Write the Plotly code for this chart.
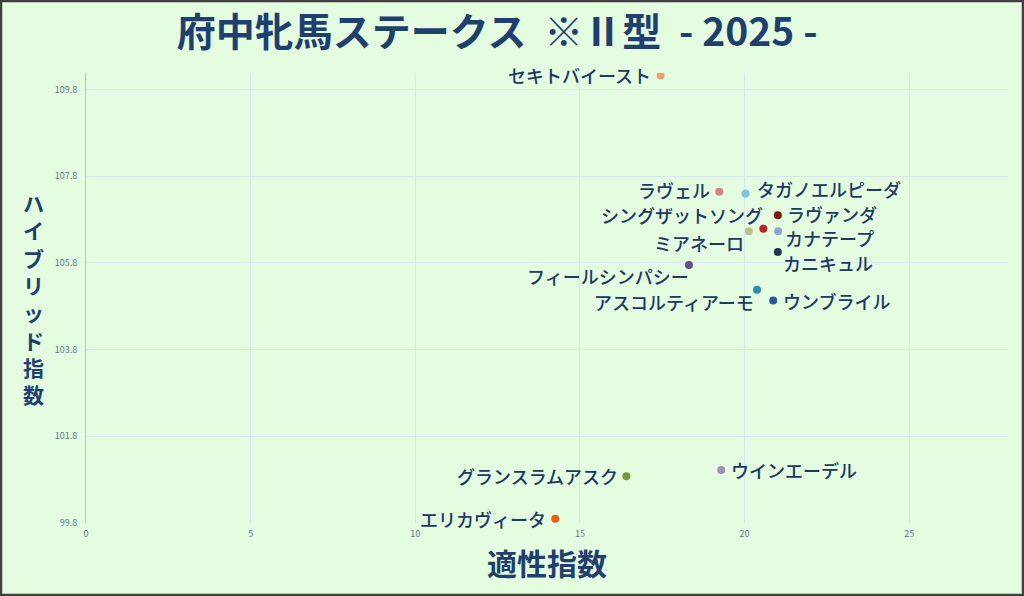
import plotly.graph_objects as go

# ---- data ----
horses = ["セキトバイースト", "ラヴェル", "タガノエルピーダ", "ラヴァンダ", "シングザットソング",
          "ミアネーロ", "カナテープ", "カニキュル", "フィールシンパシー", "アスコルティアーモ",
          "ウンブライル", "ウインエーデル", "グランスラムアスク", "エリカヴィータ"]
tekisei = [17.45, 19.23, 20.03, 21.01, 20.57, 20.13, 21.02, 21.01, 18.31, 20.38, 20.87, 19.29, 16.41, 14.25]
hybrid = [110.12, 107.44, 107.40, 106.90, 106.59, 106.53, 106.53, 106.05, 105.75, 105.18, 104.93, 101.02, 100.88, 99.90]
x_ticks = [0, 5, 10, 15, 20, 25]
y_ticks = [99.8, 101.8, 103.8, 105.8, 107.8, 109.8]
y_tick_text = ["99.8", "101.8", "103.8", "105.8", "107.8", "109.8"]

# ---- styles ----
colors = ["#EFA06A", "#DA8080", "#80C4E2", "#7A1818", "#B52828", "#B7C28C", "#8EA8D2",
          "#1E3350", "#6A4A8A", "#2A8CB0", "#2A5A98", "#A28CC0", "#7A9A38", "#E86010"]
# label placement: (anchor, xshift px, yshift px)
label_pos = [("right", -9, 1), ("right", -8, 2), ("left", 10, 5), ("left", 8, 1),
             ("right", 1, 14), ("right", -4, -12), ("left", 6, -7), ("left", 4, -11),
             ("right", 1, -11), ("right", -2, -12), ("left", 9, 0), ("left", 9, 0),
             ("right", -7, 0), ("right", -8, 0)]

BG = "#E4FCDF"
NAVY = "#1F3F6E"
TXT = "#203864"
FONT = "Noto Sans CJK JP"

fig = go.Figure()
fig.add_trace(go.Scatter(
    x=tekisei, y=hybrid, mode="markers",
    marker=dict(size=8, color=colors, line=dict(width=0)),
    hoverinfo="text", text=horses, showlegend=False))

for name, xv, yv, (anc, dx, dy) in zip(horses, tekisei, hybrid, label_pos):
    fig.add_annotation(x=xv, y=yv, text=name, showarrow=False, xanchor=anc,
                       yanchor="middle", xshift=dx, yshift=dy, borderpad=0,
                       font=dict(family=FONT, size=18, color=TXT, weight=500))

# vertical y-axis title (upright stacked characters)
ytitle = "ハイブリッド指数"
fig.add_annotation(xref="paper", yref="paper", x=0, y=0.5, xanchor="center", yanchor="middle",
                   xshift=-53, yshift=0, text="<b>" + "<br>".join(ytitle) + "</b>",
                   showarrow=False, align="center",
                   font=dict(family=FONT, size=21, color=NAVY))

fig.update_layout(
    width=1024, height=596,
    paper_bgcolor=BG, plot_bgcolor=BG,
    margin=dict(l=86, r=16, t=73, b=73),
    title=dict(text="<b>府中牝馬ステークス  ※Ⅱ型  - 2025 -</b>", x=0.4855, xanchor="center",
               y=0.945, yanchor="middle", yref="container",
               font=dict(family=FONT, size=39, color=NAVY)),
    font=dict(family=FONT),
    xaxis=dict(range=[0, 28.0], tickvals=x_ticks, showgrid=True, gridcolor="#D6E6F2", gridwidth=1,
               zeroline=False, showline=False, ticks="", ticklabelstandoff=4,
               tickfont=dict(family=FONT, size=9, color="#5A7896"),
               title=dict(text="<b>適性指数</b>", standoff=14,
                          font=dict(family=FONT, size=30, color=NAVY))),
    yaxis=dict(range=[99.8, 110.18], tickvals=y_ticks, ticktext=y_tick_text, showgrid=True,
               gridcolor="#D6E6F2", gridwidth=1, zeroline=False, showline=True,
               linecolor="#A9C4EA", linewidth=1, ticks="", ticklabelstandoff=6,
               tickfont=dict(family=FONT, size=9, color="#5A7896")),
)

# outer frame
fig.add_shape(type="rect", xref="paper", yref="paper",
              x0=-85 / 922, x1=1 + 15 / 922, y0=-72 / 450, y1=1 + 72 / 450,
              line=dict(color="#3F3F3F", width=2.5), fillcolor="rgba(0,0,0,0)", layer="above")

fig.write_html("out.html", config={"displayModeBar": False},
               post_script="document.body.style.margin='0';")
